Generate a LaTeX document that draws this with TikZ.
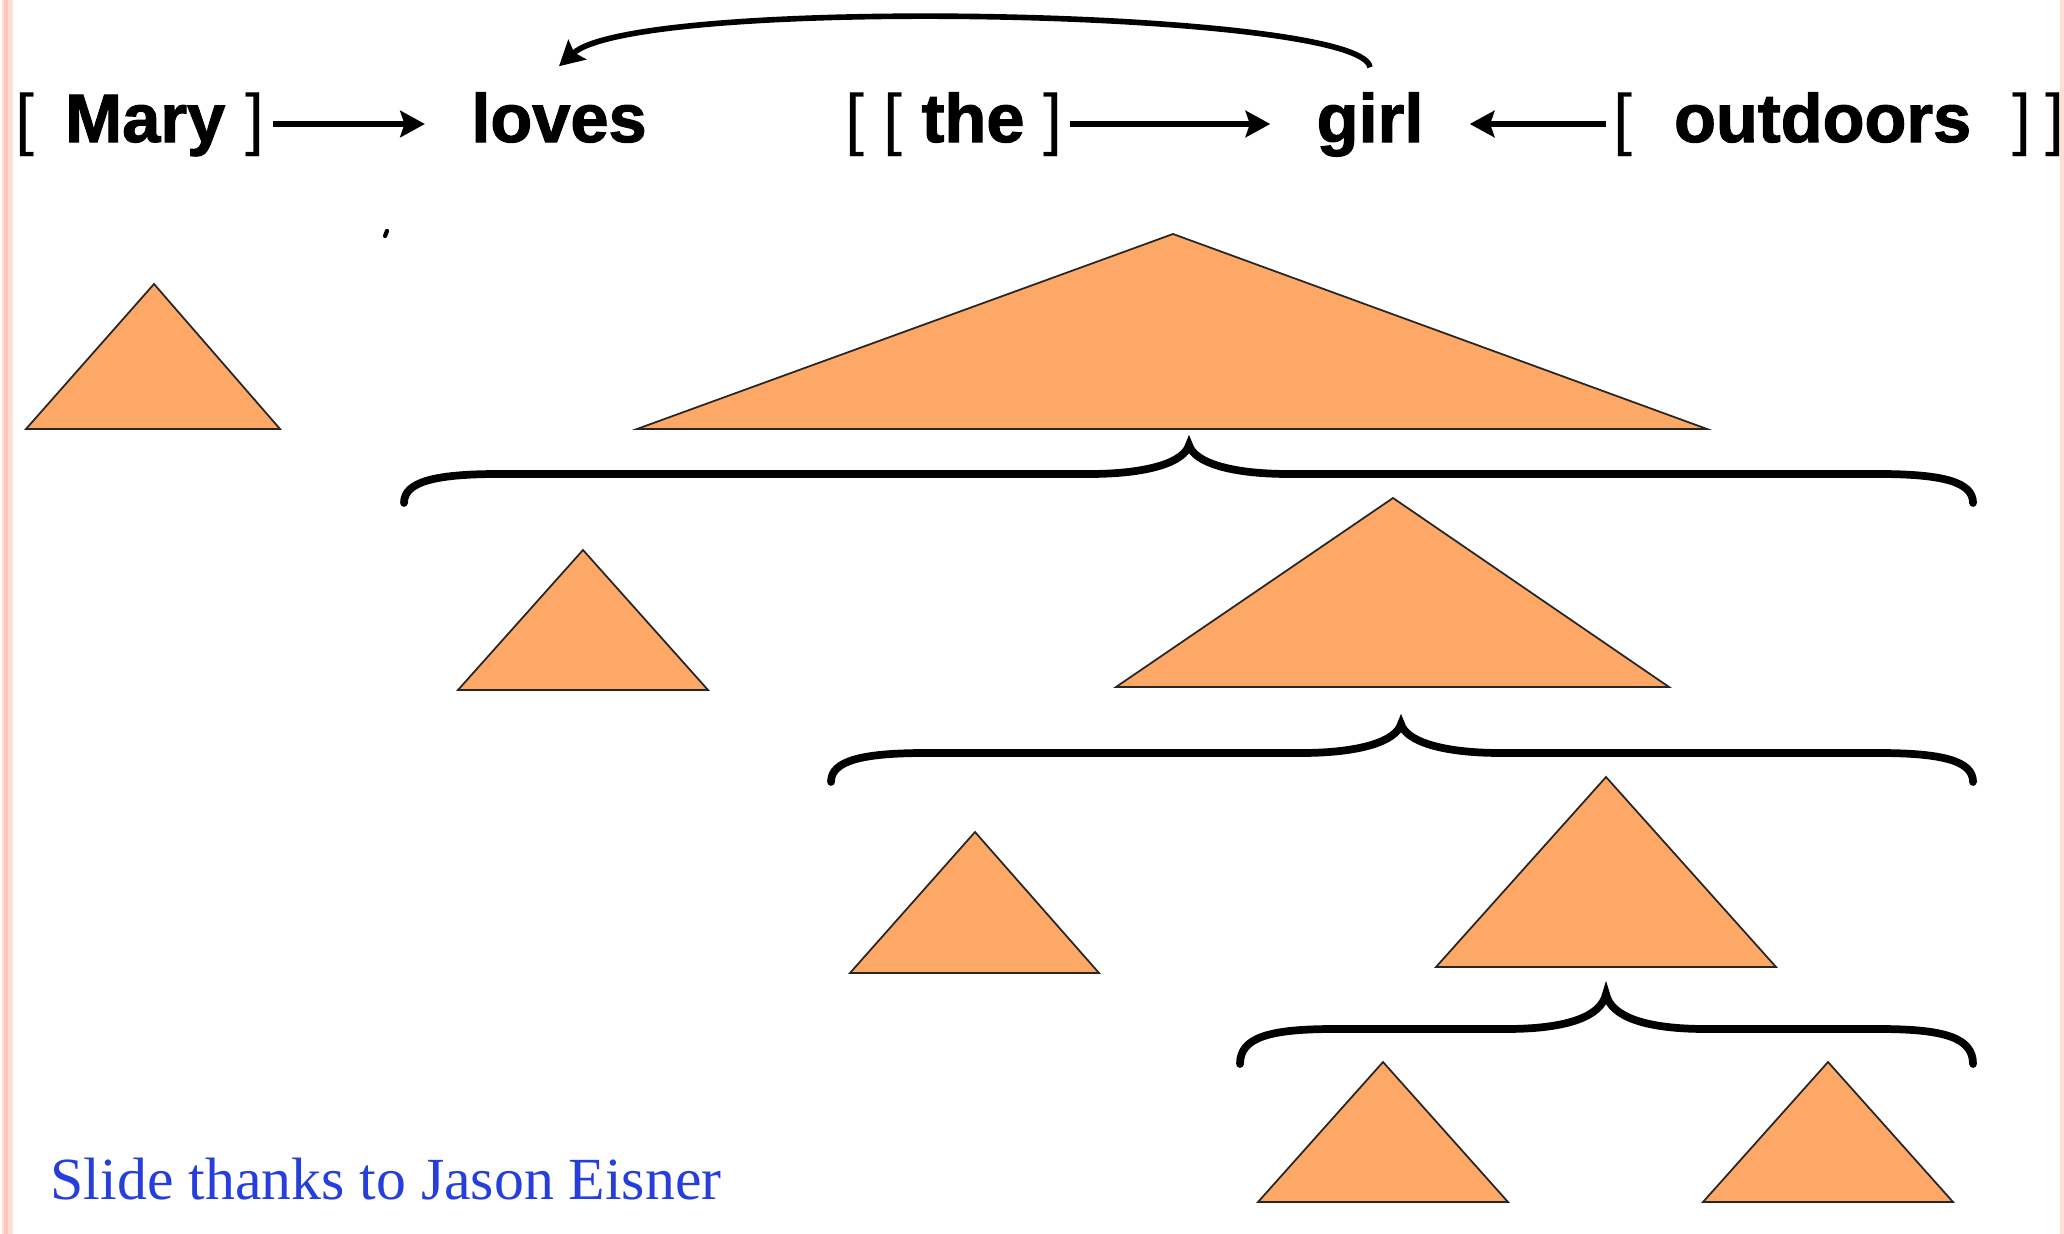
\documentclass[tikz,border=0pt]{standalone}
\usepackage{fontspec}
\setmainfont{Liberation Serif}
\newfontfamily\wordfont[BoldFeatures={FakeBold=1.6}]{Liberation Sans}
\usetikzlibrary{arrows.meta}
\usetikzlibrary{calc}
\definecolor{triorange}{RGB}{253,168,103}
\definecolor{creditblue}{RGB}{38,62,218}
\definecolor{edgepink}{RGB}{255,222,212}
\definecolor{edgerose}{RGB}{252,200,188}

\begin{document}
\begin{tikzpicture}[x=0.01cm, y=-0.01cm,
    word/.style={font=\wordfont\fontsize{19.5}{23}\selectfont, inner sep=0pt,
        text height=0.51cm, text depth=0.15cm},
    link/.style={-{Stealth[length=7pt, width=7.5pt, inset=1.2pt]}, line width=1.5pt,
        shorten >=13pt, shorten <=2pt},
    subtree/.style={fill=triorange, draw=black!85, line width=0.5pt, line join=miter},
    brace/.style={line width=2.2pt, line cap=round},
    credit/.style={font=\fontsize{17}{20}\selectfont, text=creditblue, inner sep=0pt}]
    \useasboundingbox (0,0) rectangle (2064,1234);

    \fill[edgepink] (2,0) rectangle (13,1234);
    \fill[edgerose] (4,0) rectangle (8,1234);
    \fill[edgepink] (2060,0) rectangle (2064,1234);

    \node[word] (mary) at (140,124) {[\hspace{0.45em}\textbf{Mary}\hspace{0.3em}]};
    \node[word] (loves) at (559,124) {\textbf{loves}};
    \node[word] (the) at (954,124) {[ [ \textbf{the} ]};
    \node[word] (girl) at (1370,124) {\textbf{girl}};
    \node[word] (outdoors) at (1839,124) {[\hspace{0.6em}\textbf{outdoors}\hspace{0.6em}]\hspace{0.2em}]};

    \draw[link] (mary.east) -- (loves.west);
    \draw[link] (the.east) -- (girl.west);
    \draw[link] (outdoors.west) -- (girl.east);
    \draw[link, shorten >=0pt, shorten <=0pt, line width=1.6pt]
        ([yshift=0.23cm]girl.north) .. controls +(-8,-58) and +(78,-71) .. ([yshift=0.24cm]loves.north);

    \draw[line width=1.2pt, line cap=round] (385,236) -- (387,231);

    \foreach \ax/\ay/\bl/\br/\by in {154/284/26/280/429, 1173/234/637/1707/429,
        583/550/458/708/690, 1393/498/1116/1669/687, 975/832/850/1099/973,
        1606/777/1436/1776/967, 1383/1062/1258/1508/1202, 1828/1062/1703/1953/1202}
        \filldraw[subtree] (\ax,\ay) -- (\bl,\by) -- (\br,\by) -- cycle;

    \foreach \bl/\br/\bt/\by/\bd in {404/1973/1189/474/29, 831/1973/1401/753/29,
        1240/1973/1606/1029/35}
        \draw[brace] (\bl,\by+\bd) .. controls (\bl,\by+8) and (\bl+30,\by) .. (\bl+95,\by)
            -- (\bt-100,\by) .. controls (\bt-40,\by) and (\bt-5,\by-12) .. (\bt,\by-\bd)
            .. controls (\bt+5,\by-12) and (\bt+40,\by) .. (\bt+100,\by)
            -- (\br-95,\by) .. controls (\br-30,\by) and (\br,\by+8) .. (\br,\by+\bd);

    \node[credit, anchor=base west] (thanks) at (50,1199) {Slide thanks to Jason Eisner};
\end{tikzpicture}
\end{document}
